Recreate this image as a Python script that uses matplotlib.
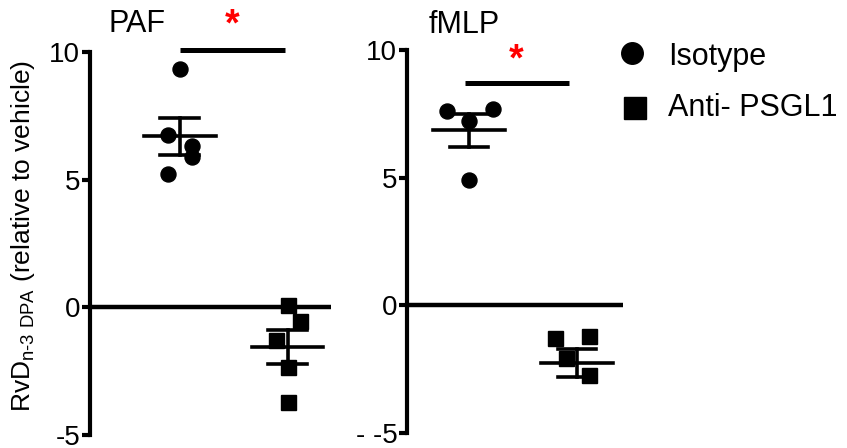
import numpy as np
import matplotlib
matplotlib.use("Agg")
import matplotlib.pyplot as plt

plt.rcParams['font.family'] = ['Liberation Sans', 'DejaVu Sans']
plt.rcParams['mathtext.fontset'] = 'custom'
plt.rcParams['mathtext.rm'] = 'Liberation Sans'

panels = ["PAF", "fMLP"]

# individual values
paf_iso = [9.33, 6.73, 6.30, 5.87, 5.24]
paf_anti = [0.10, -0.55, -1.27, -2.33, -3.70]
fmlp_iso = [7.60, 7.68, 7.20, 4.92]
fmlp_anti = [-1.29, -1.22, -2.08, -2.71]

# horizontal scatter of dots inside each group
paf_iso_jit = [0.0, -0.11, 0.11, 0.11, -0.11]
paf_anti_jit = [0.0, 0.11, -0.11, 0.0, 0.0]
fmlp_iso_jit = [-0.20, 0.22, 0.0, 0.0]
fmlp_anti_jit = [-0.20, 0.11, -0.10, 0.11]

# mean and SEM as drawn
paf_mean = [6.70, -1.54]
paf_sem = [0.73, 0.66]
fmlp_mean = [6.85, -2.27]
fmlp_sem = [0.66, 0.55]

# significance bars (y level)
sig_y = [10.08, 8.7]

yticks = [-5, 0, 5, 10]
yticklabels_left = ["-5", "0", "5", "10"]
yticklabels_right = ["- -5", "0", "5", "10"]

fig = plt.figure(figsize=(8.47, 4.48), dpi=100)
W, H = 847, 448

ax1 = fig.add_axes([90 / W, 1 - 435 / H, 241 / W, 383 / H])
ax2 = fig.add_axes([407 / W, 1 - 433 / H, 216 / W, 383 / H])

setups = [
    (ax1, paf_iso, paf_anti, paf_iso_jit, paf_anti_jit, paf_mean, paf_sem,
     (0.167, 2.4), yticklabels_left, sig_y[0], (1.0, 1.97), (1.48, 11.05)),
    (ax2, fmlp_iso, fmlp_anti, fmlp_iso_jit, fmlp_anti_jit, fmlp_mean, fmlp_sem,
     (0.426, 2.426), yticklabels_right, sig_y[1], (0.96, 1.93), (1.44, 9.6)),
]

for ax, iso, anti, ij, aj, mean, sem, xl, ytl, sy, sx, star in setups:
    ax.set_xlim(*xl)
    ax.set_ylim(-5, 10)
    for s in ["top", "right", "bottom"]:
        ax.spines[s].set_visible(False)
    ax.spines["left"].set_linewidth(3)
    ax.set_xticks([])
    ax.set_yticks(yticks)
    ax.set_yticklabels(ytl)
    ax.tick_params(axis="y", direction="out", length=6, width=3,
                   labelsize=20, pad=1)
    ax.axhline(0, color="black", lw=3.2)

    for gx, vals, jit, mk, ms in [(1, iso, ij, "o", 10.8), (2, anti, aj, "s", 10.8)]:
        i = gx - 1
        m, e = mean[i], sem[i]
        ax.plot([gx - 0.33, gx + 0.33], [m, m], color="black", lw=2.6)
        ax.plot([gx, gx], [m - e, m + e], color="black", lw=2.6)
        ax.plot([gx - 0.18, gx + 0.18], [m + e, m + e], color="black", lw=2.6)
        ax.plot([gx - 0.18, gx + 0.18], [m - e, m - e], color="black", lw=2.6)
        ax.plot(np.array(jit) + gx, vals, linestyle="none", marker=mk,
                ms=ms, color="black", zorder=5)

    ax.plot(list(sx), [sy, sy], color="black", lw=3.6, clip_on=False,
            solid_capstyle="butt")
    ax.text(star[0], star[1], "*", color="red", fontsize=27, fontweight="bold",
            ha="center", va="center", clip_on=False)

fig.text(137 / W, 1 - 24 / H, panels[0], fontsize=22, ha="center", va="center")
fig.text(464 / W, 1 - 25 / H, panels[1], fontsize=22, ha="center", va="center")

fig.text(23 / W, 1 - 236 / H,
         r"RvD$_{\mathregular{n‐3\ DPA}}$ (relative to vehicle)",
         fontsize=19, rotation=90, ha="center", va="center")

# legend
fig.lines.append(plt.Line2D([632 / W], [1 - 53 / H], marker="o", ms=15.5,
                            color="black", linestyle="none",
                            transform=fig.transFigure))
fig.lines.append(plt.Line2D([635 / W], [1 - 108 / H], marker="s", ms=16,
                            color="black", linestyle="none",
                            transform=fig.transFigure))
fig.text(668 / W, 1 - 57 / H, "Isotype", fontsize=22, va="center")
fig.text(668 / W, 1 - 108 / H, "Anti- PSGL1", fontsize=22, va="center")

fig.savefig("out.png", dpi=100)
